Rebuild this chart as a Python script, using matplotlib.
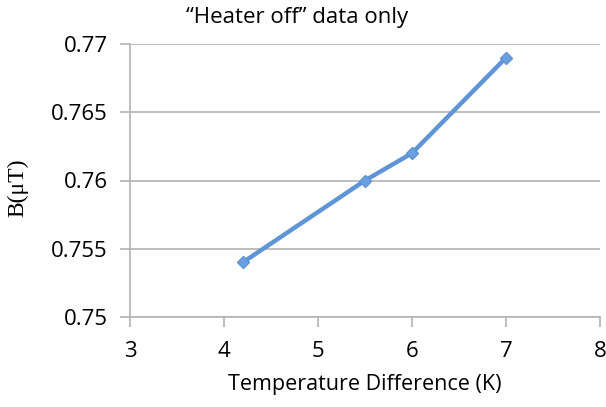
import matplotlib
matplotlib.use('Agg')
import matplotlib.pyplot as plt

temp_diff = [4.2, 5.5, 6.0, 7.0]
b_field = [0.754, 0.760, 0.762, 0.769]
xticks = [3, 4, 5, 6, 7, 8]
yticks = [0.75, 0.755, 0.76, 0.765, 0.77]
ytick_labels = ['0.75', '0.755', '0.76', '0.765', '0.77']

plt.rcParams['font.family'] = ['Open Sans', 'DejaVu Sans']

fig = plt.figure(figsize=(6.06, 4.07), dpi=100)
ax = fig.add_axes([130/606, 90/407, 470/606, 273/407])

ax.plot(temp_diff, b_field, color='#5f95d6', linewidth=3.2, marker='D',
        markersize=6.5, markerfacecolor='#6a9fe0', markeredgecolor='#5f95d6',
        zorder=3, clip_on=False)

ax.set_xlim(3, 8)
ax.set_ylim(0.75, 0.77)
ax.set_xticks(xticks)
ax.set_yticks(yticks)
ax.set_yticklabels(ytick_labels)
ax.grid(axis='y', color='#b3b3b3', linewidth=1.2)
ax.set_axisbelow(True)
for s in ['top', 'right']:
    ax.spines[s].set_visible(False)
for s in ['left', 'bottom']:
    ax.spines[s].set_color('#b3b3b3')
    ax.spines[s].set_linewidth(1.2)
ax.tick_params(axis='both', colors='#b3b3b3', length=7, width=1.2,
               labelcolor='black', labelsize=16)
ax.tick_params(axis='x', pad=10)
ax.tick_params(axis='y', pad=9)

ax.set_xlabel('Temperature Difference (K)', fontsize=15.5, labelpad=9)
fig.text(18/606, 1 - 188/407, 'B(\u03bcT)', rotation=90, ha='center',
         va='center', fontsize=17, family='Liberation Serif')
fig.text(297/606, 1 - 18/407, '\u201cHeater off\u201d data only',
         ha='center', va='center', fontsize=16)

fig.savefig('out.png', dpi=100)
